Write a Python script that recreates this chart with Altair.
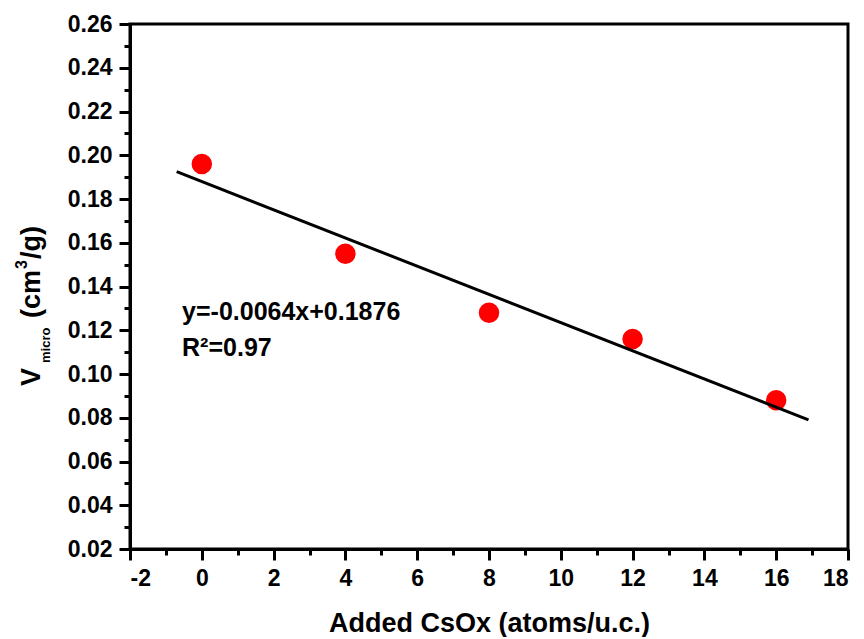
import altair as alt
import pandas as pd

# data
cs_added = [0, 4, 8, 12, 16]
v_micro = [0.196, 0.155, 0.128, 0.116, 0.088]

fit_x = [-0.7, 16.9]
fit_y = [0.1925, 0.0790]

x_major = [-2, 0, 2, 4, 6, 8, 10, 12, 14, 16, 18]
x_minor = [-1, 1, 3, 5, 7, 9, 11, 13, 15, 17]
y_major = [0.02, 0.04, 0.06, 0.08, 0.10, 0.12, 0.14, 0.16, 0.18, 0.20, 0.22, 0.24, 0.26]
y_minor = [0.03, 0.05, 0.07, 0.09, 0.11, 0.13, 0.15, 0.17, 0.19, 0.21, 0.23, 0.25]

eq_lines = ["y=-0.0064x+0.1876", "R\u00b2=0.97"]
eq_x = [-0.55, -0.55]
eq_y = [0.1283, 0.1119]

FONT = "Liberation Sans"

pts = pd.DataFrame({"x": cs_added, "y": v_micro})
fit = pd.DataFrame({"x": fit_x, "y": fit_y})
eq = pd.DataFrame({"t": eq_lines, "x": eq_x, "y": eq_y})

xs = alt.Scale(domain=[-2, 18], nice=False, zero=False)
ys = alt.Scale(domain=[0.02, 0.26], nice=False, zero=False)

x_axis = alt.Axis(values=x_major, labelExpr="toString(datum.value)",
                  title="Added CsOx (atoms/u.c.)",
                  titleFontSize=27, titlePadding=20, orient="bottom", offset=0)
y_axis = alt.Axis(values=y_major, format=".2f", title=None, orient="left", offset=0)

points = alt.Chart(pts).mark_point(filled=True, color="#ff0000", opacity=1, size=420).encode(
    x=alt.X("x:Q", scale=xs, axis=x_axis),
    y=alt.Y("y:Q", scale=ys, axis=y_axis),
)

line = alt.Chart(fit).mark_line(color="black", strokeWidth=3).encode(
    x=alt.X("x:Q", scale=xs, axis=None),
    y=alt.Y("y:Q", scale=ys, axis=None),
)

minor = alt.Chart(pts).mark_point(opacity=0, size=1).encode(
    x=alt.X("x:Q", scale=xs, axis=alt.Axis(values=x_minor, labels=False, domain=False,
                                            tickSize=6, title=None, orient="bottom", offset=0)),
    y=alt.Y("y:Q", scale=ys, axis=alt.Axis(values=y_minor, labels=False, domain=False,
                                            tickSize=6, title=None, orient="left", offset=0)),
)

eq_text = alt.Chart(eq).mark_text(align="left", baseline="middle", font=FONT,
                                  fontWeight="bold", fontSize=25, color="black").encode(
    x=alt.X("x:Q", scale=xs, axis=None),
    y=alt.Y("y:Q", scale=ys, axis=None),
    text="t:N",
)

# y-axis title assembled from pieces (subscript "micro", superscript "3")
title_parts = ["V", "micro", "(cm", "3", "/g)"]
title_sizes = [27, 13, 27, 16, 27]
title_px = [-98, -84, -98, -108, -98]
title_py = [362, 339, 294, 245, 235]
tdf = pd.DataFrame({"t": title_parts})

ytitle = alt.layer(*[
    alt.Chart(tdf.iloc[[i]]).mark_text(angle=270, align="left", baseline="middle", font=FONT,
                                       fontWeight="bold", fontSize=title_sizes[i], color="black").encode(
        x=alt.value(title_px[i]), y=alt.value(title_py[i]), text="t:N")
    for i in range(len(title_parts))
])

chart = alt.layer(points, line, minor, eq_text, ytitle).resolve_axis(
    x="independent", y="independent"
).properties(
    width=718, height=525,
    autosize=alt.AutoSizeParams(type="none"),
    padding={"left": 122, "top": 16, "right": 6, "bottom": 88},
    background="white",
).configure_view(
    stroke="black", strokeWidth=3
).configure_axis(
    grid=False, domainColor="black", domainWidth=3, tickColor="black", tickWidth=3,
    tickSize=11, labelFont=FONT, labelFontWeight="bold", labelFontSize=23,
    labelColor="black", labelPadding=7, titleFont=FONT, titleFontWeight="bold",
    titleColor="black"
)

chart.save("out.html", embed_options={"renderer": "svg", "actions": False})
